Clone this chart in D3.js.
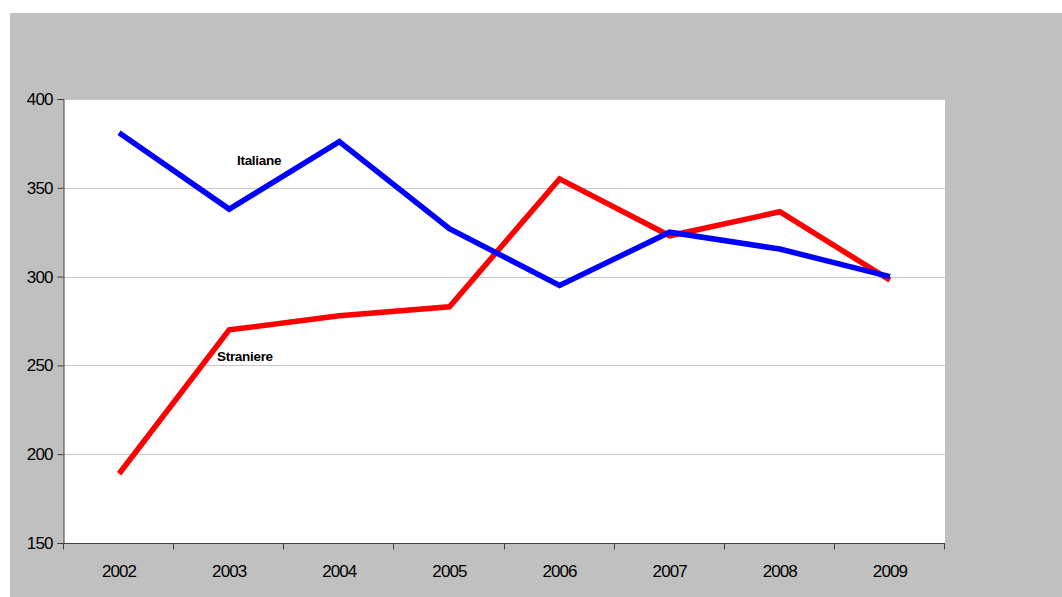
<!DOCTYPE html>
<html>
<head>
<meta charset="utf-8">
<script src="https://cdn.jsdelivr.net/npm/d3@7"></script>
<style>
  html, body { margin: 0; padding: 0; background: #ffffff; }
  svg { display: block; font-family: "Liberation Sans", Arial, sans-serif; }
</style>
</head>
<body>
<svg id="chart" width="1062" height="597"></svg>
<script>
const years = ["2002", "2003", "2004", "2005", "2006", "2007", "2008", "2009"];
const italiane = [381, 338, 376, 327, 295, 325, 315.5, 300];
const straniere = [189, 270, 278, 283, 355, 323, 336.5, 298];
const yTicks = [150, 200, 250, 300, 350, 400];
const seriesNames = ["Italiane", "Straniere"];

const svg = d3.select("#chart");
const W = 1062, H = 597;
const plot = { left: 64, top: 99, right: 945, bottom: 543 };

// outer gray background
svg.append("rect").attr("x", 10).attr("y", 13).attr("width", W - 10).attr("height", H - 13).attr("fill", "#c0c0c0");
// plot area
svg.append("rect").attr("x", plot.left).attr("y", plot.top)
  .attr("width", plot.right - plot.left).attr("height", plot.bottom - plot.top).attr("fill", "#ffffff");

const x = d3.scaleBand().domain(years).range([plot.left, plot.right]).padding(0);
const y = d3.scaleLinear().domain([150, 400]).range([plot.bottom, plot.top]);

// gridlines
svg.append("g").selectAll("line").data(yTicks.filter(t => t > 150)).join("line")
  .attr("x1", plot.left).attr("x2", plot.right)
  .attr("y1", d => Math.round(y(d)) + 0.5).attr("y2", d => Math.round(y(d)) + 0.5)
  .attr("stroke", "#c8c8c8").attr("stroke-width", 1);

// y axis
const yAxis = d3.axisLeft(y).tickValues(yTicks).tickSize(6).tickPadding(5).tickFormat(d3.format("d"));
const gy = svg.append("g").attr("transform", `translate(${plot.left - 0.5},0)`).call(yAxis);
gy.select(".domain").attr("stroke", "#404040");
gy.selectAll(".tick line").attr("stroke", "#404040");
gy.selectAll(".tick text").attr("fill", "#000").style("font-size", "17px")
  .style("font-family", "'Liberation Sans', Arial, sans-serif").attr("letter-spacing", "-0.9");

// x axis
const gx = svg.append("g").attr("transform", `translate(0,${plot.bottom + 0.5})`);
gx.append("line").attr("x1", plot.left - 0.5).attr("x2", plot.right).attr("y1", 0).attr("y2", 0).attr("stroke", "#404040");
const bounds = years.map(d => x(d)).concat([plot.right]);
gx.selectAll("line.tk").data(bounds).join("line").attr("class", "tk")
  .attr("x1", d => Math.round(d) - 0.5).attr("x2", d => Math.round(d) - 0.5)
  .attr("y1", 0).attr("y2", 6).attr("stroke", "#404040");
gx.selectAll("text").data(years).join("text")
  .attr("x", d => x(d) + x.bandwidth() / 2).attr("y", 33)
  .attr("text-anchor", "middle").attr("fill", "#000")
  .style("font-size", "17px").attr("letter-spacing", "-0.9")
  .text(d => d);

const line = d3.line().x((d, i) => x(years[i]) + x.bandwidth() / 2).y(d => y(d));

svg.append("path").datum(straniere).attr("d", line)
  .attr("fill", "none").attr("stroke", "#ff0000").attr("stroke-width", 5.5)
  .attr("stroke-linejoin", "miter").attr("stroke-linecap", "butt");
svg.append("path").datum(italiane).attr("d", line)
  .attr("fill", "none").attr("stroke", "#0000ff").attr("stroke-width", 5.5)
  .attr("stroke-linejoin", "miter").attr("stroke-linecap", "butt");

// series labels
svg.append("text").attr("x", 237).attr("y", 165).attr("fill", "#000")
  .style("font-size", "13.5px").style("font-weight", "bold").attr("letter-spacing", "-0.3")
  .text(seriesNames[0]);
svg.append("text").attr("x", 217).attr("y", 361).attr("fill", "#000")
  .style("font-size", "13.5px").style("font-weight", "bold").attr("letter-spacing", "-0.3")
  .text(seriesNames[1]);
</script>
</body>
</html>
